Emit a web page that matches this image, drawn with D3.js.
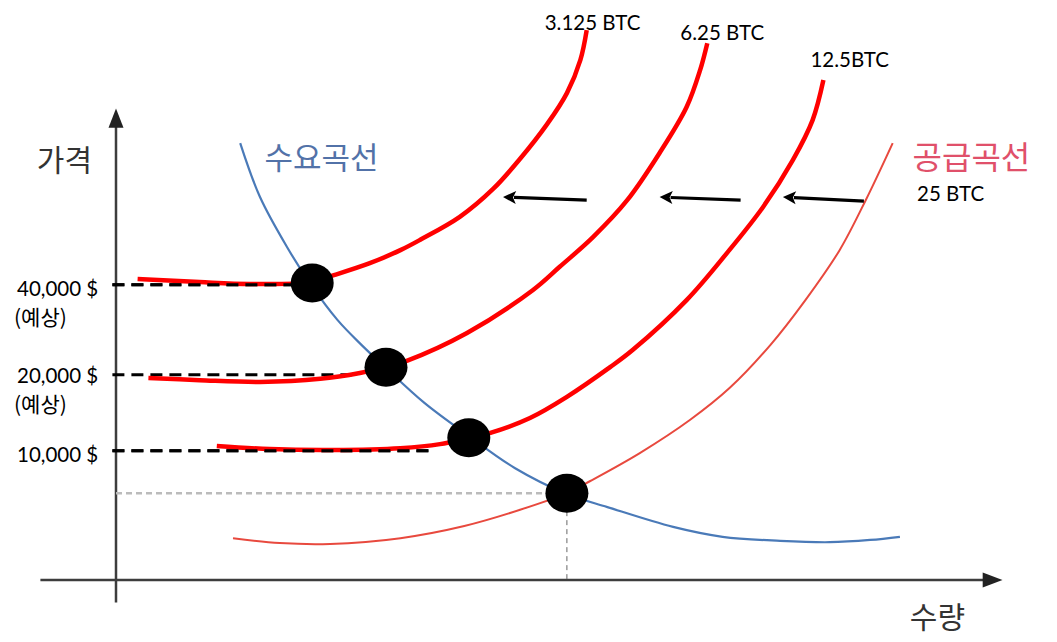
<!DOCTYPE html>
<html><head><meta charset="utf-8">
<script src="https://cdn.jsdelivr.net/npm/d3@7"></script>
<style>
html,body{margin:0;padding:0;background:#fff;}
svg{display:block;}
</style></head>
<body>
<svg id="chart" width="1057" height="642"></svg>
<script>
// ---- data (quantity units 0..100, price units 0..100) ----
const demandCurve = [[13.8,97.1],[16.0,85.1],[19.0,74.0],[21.6,65.8],[24.6,57.8],[27.3,52.2],[30.0,47.1],[34.3,39.3],[39.2,32.0],[44.3,24.9],[50.1,19.1],[54.6,16.2],[61.9,11.8],[67.4,9.6],[73.8,8.7],[79.3,8.4],[83.8,8.9],[87.1,9.6]];
const supplyCurve = [[13.0,9.3],[18.2,8.2],[23.8,8.0],[31.6,9.3],[38.7,12.0],[44.9,15.6],[50.1,19.3],[52.7,22.0],[58.2,28.2],[63.8,35.6],[68.2,42.7],[72.7,52.2],[76.6,62.2],[80.4,73.3],[83.3,84.4],[86.3,97.1]];
const curve3125 = [[2.4,66.9],[9.3,66.2],[14.9,65.8],[21.6,66.2],[24.3,67.8],[28.2,70.4],[31.6,73.3],[33.8,75.6],[38.2,80.7],[41.9,86.9],[44.9,93.6],[47.9,101.3],[50.1,108.2],[51.6,115.6],[52.3,122.2]];
const curve625 = [[3.6,44.9],[9.3,44.4],[16.0,44.0],[22.7,44.7],[27.1,46.0],[30.0,47.3],[32.3,48.7],[39.0,54.9],[46.3,64.4],[49.3,69.6],[53.0,76.2],[56.8,84.4],[60.4,94.9],[63.4,105.1],[64.9,113.3],[65.7,119.3]];
const curve125 = [[11.2,29.8],[17.1,29.1],[24.1,28.9],[31.6,29.3],[36.0,30.2],[39.2,31.6],[41.6,32.7],[46.0,36.0],[50.1,40.7],[54.9,47.3],[57.4,51.1],[63.4,62.2],[67.9,72.7],[71.9,82.9],[75.2,93.3],[77.4,102.2],[78.6,111.1]];
const btcLabels = ["3.125 BTC","6.25 BTC","12.5BTC","25 BTC"];
const equilibria = [[21.8,66.0],[30.0,47.3],[39.2,31.6],[50.1,19.3]];
const priceLevels = [65.6,45.6,28.7];
const priceLabels = ["40,000 $","20,000 $","10,000 $"];
const priceNotes = ["(예상)","(예상)",""];
const levelEnds = [20.4,26.2,35.3];
const shiftArrows = [[[52.3,84.4],[43.0,85.1]],[[69.4,84.4],[60.4,85.1]],[[83.1,84.2],[74.1,85.1]]];
const axisTitles = {y:"가격", x:"수량"};
const curveNames = ["수요곡선","공급곡선"];

// ---- scales ----
const xS = d3.scaleLinear().domain([0,100]).range([116,1016]);
const yS = d3.scaleLinear().domain([0,100]).range([580,130]);
const svg = d3.select("#chart");
const line = d3.line().x(d=>xS(d[0])).y(d=>yS(d[1])).curve(d3.curveCatmullRom.alpha(0.5));
const latin = "Lato, 'Liberation Sans', sans-serif";
const kr = "'Noto Sans CJK KR', sans-serif";

// ---- axes ----
const axisColor = "#3d3d3d";
svg.append("line").attr("x1",xS(0)).attr("x2",xS(0)).attr("y1",yS(-5)).attr("y2",yS(102))
  .attr("stroke",axisColor).attr("stroke-width",2.5);
svg.append("path").attr("d",`M${xS(0)},${yS(104.8)} L${xS(0)-7.5},${yS(100.5)} L${xS(0)+7.5},${yS(100.5)} Z`).attr("fill","#222");
svg.append("line").attr("x1",xS(-8.4)).attr("x2",xS(96.5)).attr("y1",yS(0)).attr("y2",yS(0))
  .attr("stroke",axisColor).attr("stroke-width",2.5);
svg.append("path").attr("d",`M${xS(98.5)},${yS(0)} L${xS(96.3)},${yS(0)-7.5} L${xS(96.3)},${yS(0)+7.5} Z`).attr("fill","#222");

svg.append("text").attr("x",xS(-8.8)).attr("y",yS(91)).text(axisTitles.y)
  .attr("font-family",kr).attr("font-size",30).attr("fill","#333");
svg.append("text").attr("x",xS(88.2)).attr("y",yS(-10.6)).text(axisTitles.x)
  .attr("font-family",kr).attr("font-size",30).attr("fill","#333");

// ---- equilibrium guide lines ----
const eq0 = equilibria[3];
svg.append("line").attr("x1",xS(0)).attr("x2",xS(eq0[0])).attr("y1",yS(eq0[1])).attr("y2",yS(eq0[1]))
  .attr("stroke","#bbb").attr("stroke-width",2.5).attr("stroke-dasharray","6,4");
svg.append("line").attr("x1",xS(eq0[0])).attr("x2",xS(eq0[0])).attr("y1",yS(eq0[1])).attr("y2",yS(0))
  .attr("stroke","#666").attr("stroke-width",1).attr("stroke-dasharray","5,4");

// ---- demand & supply ----
svg.append("path").attr("d",line(demandCurve)).attr("fill","none").attr("stroke","#4a7ab8").attr("stroke-width",2.2);
svg.append("path").attr("d",line(supplyCurve)).attr("fill","none").attr("stroke","#e8493e").attr("stroke-width",2);

// ---- price level dashed lines ----
priceLevels.forEach((p,i)=>{
  svg.append("line").attr("x1",xS(-0.4)).attr("x2",xS(levelEnds[i])).attr("y1",yS(p)).attr("y2",yS(p))
    .attr("stroke","#000").attr("stroke-width",3).attr("stroke-dasharray","12,7");
});

// ---- shifted supply curves ----
[curve3125,curve625,curve125].forEach(c=>{
  svg.append("path").attr("d",line(c)).attr("fill","none").attr("stroke","#ff0000").attr("stroke-width",4.5);
});
priceLevels.forEach((p,i)=>{
  if(i!==1) svg.append("line").attr("x1",xS(-0.4)).attr("x2",xS(levelEnds[i])).attr("y1",yS(p)).attr("y2",yS(p))
    .attr("stroke","#000").attr("stroke-width",3).attr("stroke-dasharray","12,7");
});

// ---- equilibrium dots ----
svg.selectAll("ellipse.eq").data(equilibria).enter().append("ellipse")
  .attr("cx",d=>xS(d[0])).attr("cy",d=>yS(d[1])).attr("rx",21.5).attr("ry",19.5).attr("fill","#000");

// ---- shift arrows ----
shiftArrows.forEach(a=>{
  const x0=xS(a[0][0]), y0=yS(a[0][1]), x1=xS(a[1][0]), y1=yS(a[1][1]);
  const L=Math.hypot(x1-x0,y1-y0), ux=(x1-x0)/L, uy=(y1-y0)/L, hl=13, hw=6.5;
  const bx=x1-ux*hl, by=y1-uy*hl;
  svg.append("line").attr("x1",x0).attr("y1",y0).attr("x2",bx+ux*2).attr("y2",by+uy*2)
    .attr("stroke","#000").attr("stroke-width",3.2);
  svg.append("path").attr("d",`M${x1},${y1} L${bx-uy*hw},${by+ux*hw} L${bx+ux*3},${by+uy*3} L${bx+uy*hw},${by-ux*hw} Z`).attr("fill","#000");
});

// ---- labels ----
const ends = [curve3125[curve3125.length-1],curve625[curve625.length-1],curve125[curve125.length-1]];
const labelOffsets = [[-42,0],[-27,-3],[-13,-13]];
ends.forEach((e,i)=>{
  svg.append("text").attr("x",xS(e[0])+labelOffsets[i][0]).attr("y",yS(e[1])+labelOffsets[i][1])
    .attr("font-family",latin).attr("font-size",20.5).attr("fill","#000").text(btcLabels[i]);
});
svg.append("text").attr("x",xS(89.0)).attr("y",yS(84.4)+1).attr("font-family",latin).attr("font-size",20.5).attr("fill","#000").text(btcLabels[3]);

svg.append("text").attr("x",xS(16.5)).attr("y",yS(91.3)).attr("font-family",kr).attr("font-size",31).attr("fill","#5272a8").text(curveNames[0]);
svg.append("text").attr("x",xS(88.5)).attr("y",yS(91.3)).attr("font-family",kr).attr("font-size",32).attr("fill","#e0506a").text(curveNames[1]);

const labelDy = [11,8,11];
priceLevels.forEach((p,i)=>{
  svg.append("text").attr("x",17).attr("y",yS(p)+labelDy[i]).attr("font-family",latin).attr("font-size",20.5).attr("fill","#000").text(priceLabels[i]);
  if(priceNotes[i]) svg.append("text").attr("x",14).attr("y",yS(p)+labelDy[i]+29).attr("font-family",kr).attr("font-size",21).attr("fill","#000").text(priceNotes[i]);
});
</script>
</body></html>
